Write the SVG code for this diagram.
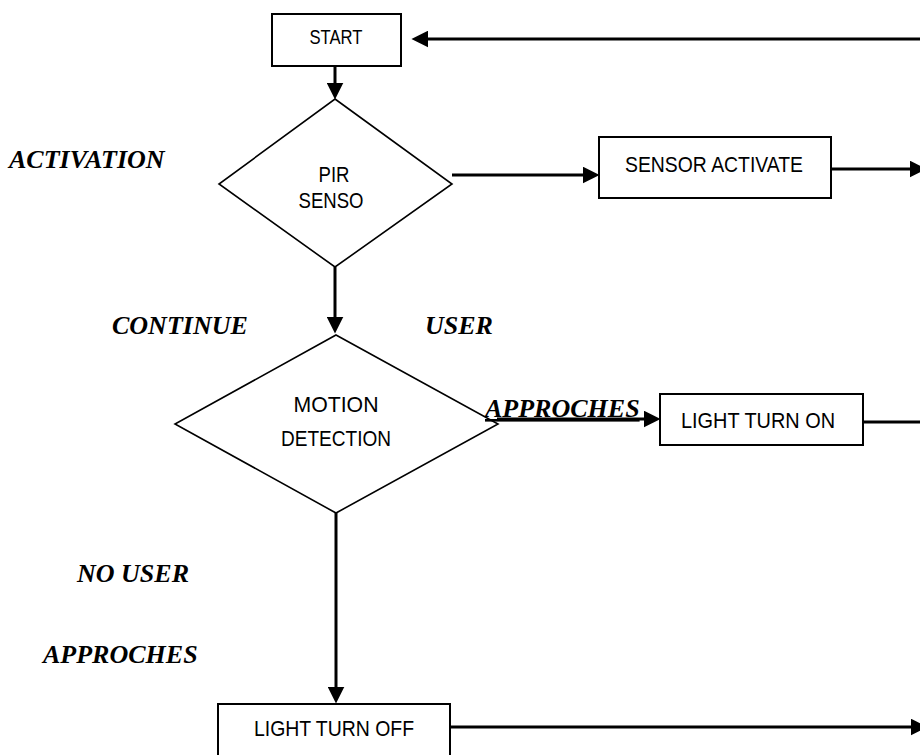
<svg xmlns="http://www.w3.org/2000/svg" width="920" height="755" viewBox="0 0 920 755">
<style>
.box{fill:#fff;stroke:#000;stroke-width:2}
.dia{fill:#fff;stroke:#000;stroke-width:1.6}
.t{font-family:"Liberation Sans Narrow","Liberation Sans",Arial,sans-serif;fill:#000;text-anchor:middle}
.lbl{font-family:"Liberation Serif","Times New Roman",serif;font-weight:bold;font-style:italic;font-size:26px;fill:#000}
.c{stroke:#000;stroke-width:3;fill:none;marker-end:url(#ah)}
</style>
<defs>
<marker id="ah" markerUnits="userSpaceOnUse" markerWidth="17" markerHeight="17" refX="7" refY="8" orient="auto" viewBox="0 0 16 16">
<path d="M0,0 L16,8 L0,16 z" fill="#000"/>
</marker>
</defs>
<rect width="920" height="755" fill="#fff"/>
<g id="connectors">
<line class="c" x1="920" y1="39" x2="421" y2="39"/>
<line class="c" x1="335" y1="66" x2="335" y2="90"/>
<line class="c" x1="452" y1="175" x2="590" y2="175"/>
<line class="c" x1="831" y1="169" x2="917" y2="169"/>
<line class="c" x1="335" y1="267" x2="335" y2="324"/>
<line class="c" x1="497" y1="419" x2="651" y2="419"/>
<line class="c" x1="863" y1="422" x2="928" y2="422"/>
<line class="c" x1="336" y1="513" x2="336" y2="694"/>
<line class="c" x1="450" y1="727" x2="918" y2="727"/>
</g>
<g id="start">
<rect class="box" x="272" y="14" width="129" height="52"/>
<text class="t" x="336" y="44" font-size="20" textLength="53" lengthAdjust="spacingAndGlyphs">START</text>
</g>
<g id="pir">
<polygon class="dia" points="335,99 452,184 335,267 219,184"/>
<text class="t" x="334" y="182" font-size="22" textLength="31" lengthAdjust="spacingAndGlyphs">PIR</text>
<text class="t" x="331" y="208" font-size="22" textLength="65" lengthAdjust="spacingAndGlyphs">SENSO</text>
</g>
<g id="sensor">
<rect class="box" x="599" y="137" width="232" height="61"/>
<text class="t" x="714" y="172" font-size="22" textLength="178" lengthAdjust="spacingAndGlyphs">SENSOR ACTIVATE</text>
</g>
<g id="motion">
<polygon class="dia" points="336,335 498,424 336,513 175,424"/>
<text class="t" x="336" y="412" font-size="22" textLength="85" lengthAdjust="spacingAndGlyphs">MOTION</text>
<text class="t" x="336" y="446" font-size="22" textLength="110" lengthAdjust="spacingAndGlyphs">DETECTION</text>
</g>
<g id="lighton">
<rect class="box" x="660" y="394" width="203" height="51"/>
<text class="t" x="758" y="428" font-size="22" textLength="154" lengthAdjust="spacingAndGlyphs">LIGHT TURN ON</text>
</g>
<g id="lightoff">
<rect class="box" x="218" y="704" width="232" height="70"/>
<text class="t" x="334" y="736" font-size="22" textLength="160" lengthAdjust="spacingAndGlyphs">LIGHT TURN OFF</text>
</g>
<g id="labels">
<text class="lbl" x="9" y="168">ACTIVATION</text>
<text class="lbl" x="112" y="334">CONTINUE</text>
<text class="lbl" x="425" y="334">USER</text>
<text class="lbl" x="485" y="417" text-decoration="underline">APPROCHES</text>
<text class="lbl" x="77" y="582">NO USER</text>
<text class="lbl" x="43" y="663">APPROCHES</text>
</g>
</svg>
